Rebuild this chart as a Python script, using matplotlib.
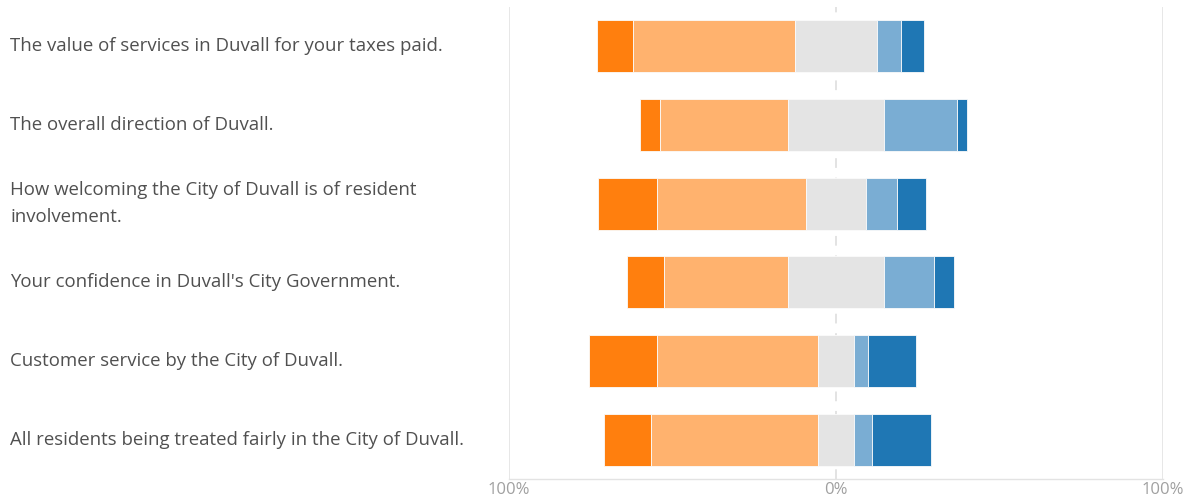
import matplotlib
matplotlib.use("Agg")
import matplotlib.pyplot as plt
import matplotlib.transforms as mtransforms
import numpy as np

categories = [
    "The value of services in Duvall for your taxes paid.",
    "The overall direction of Duvall.",
    "How welcoming the City of Duvall is of resident\ninvolvement.",
    "Your confidence in Duvall's City Government.",
    "Customer service by the City of Duvall.",
    "All residents being treated fairly in the City of Duvall.",
]
very_negative = [11.0, 6.0, 17.9, 11.4, 20.8, 14.4]
negative = [49.5, 39.3, 45.7, 38.0, 49.1, 51.0]
neutral = [25.2, 29.3, 18.1, 29.3, 11.2, 11.3]
positive = [7.4, 22.3, 9.5, 15.3, 4.2, 5.4]
very_positive = [6.9, 3.1, 9.0, 6.1, 14.8, 17.9]
tick_values = [-100, 0, 100]
tick_labels = ["100%", "0%", "100%"]

colors = ["#ff7f0e", "#ffb26e", "#e4e4e4", "#7aadd3", "#1f77b4"]
series = [very_negative, negative, neutral, positive, very_positive]

fig = plt.figure(figsize=(11.96, 4.98), dpi=100)
W, H = 1196, 498
ax = fig.add_axes([509 / W, 1 - 479 / H, (1163 - 509) / W, (479 - 7) / H])

y = np.arange(len(categories))
start = -(np.array(neutral) / 2 + np.array(negative) + np.array(very_negative))
left = start.copy()
for vals, c in zip(series, colors):
    v = np.array(vals)
    ax.barh(y, v, left=left, height=0.665, color=c, edgecolor="#fbfbfb",
            linewidth=0.6, zorder=3)
    left = left + v

ax.set_xlim(-100, 100)
ax.set_ylim(len(categories) - 0.5, -0.5)

for s in ["top", "right", "left"]:
    ax.spines[s].set_visible(False)
ax.spines["bottom"].set_color("#e3e3e3")
ax.spines["bottom"].set_linewidth(1.0)

ax.axvline(-100, color="#e3e3e3", lw=1.2, zorder=1)
ax.axvline(100, color="#e3e3e3", lw=1.2, zorder=1)
ax.axvline(0, color="#e3e3e3", lw=1.4, ls=(0, (5, 5)), zorder=1)

ax.set_yticks([])
ax.set_xticks(tick_values)
ax.set_xticklabels(tick_labels, fontsize=12, color="#a0a0a0", family="Open Sans")
ax.tick_params(axis="x", length=0, pad=2)

trans = mtransforms.blended_transform_factory(fig.transFigure, ax.transData)
for yi, lab in zip(y, categories):
    ax.text(10 / W, yi, lab, transform=trans, ha="left", va="center",
            fontsize=13.4, color="#505050", family="Open Sans", linespacing=1.65)

fig.savefig("out.png", dpi=100, facecolor="white")
